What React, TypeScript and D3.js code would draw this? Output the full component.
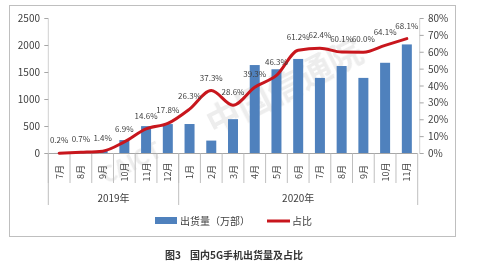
import { scaleBand, scaleLinear, line, curveMonotoneX } from "d3";

const months = ["7月", "8月", "9月", "10月", "11月", "12月", "1月", "2月", "3月", "4月", "5月", "6月", "7月", "8月", "9月", "10月", "11月"];
const years = [
  { label: "2019年", from: 0, to: 6 },
  { label: "2020年", from: 6, to: 17 },
];
const shipments = [10, 20, 50, 249, 507, 545, 546, 239, 636, 1638, 1560, 1751, 1400, 1620, 1400, 1680, 2020];
const shares = [0.2, 0.7, 1.4, 6.9, 14.6, 17.8, 26.3, 37.3, 28.6, 39.3, 46.3, 61.2, 62.4, 60.1, 60.0, 64.1, 68.1];
const leftTicks = [0, 500, 1000, 1500, 2000, 2500];
const rightTicks = [0, 10, 20, 30, 40, 50, 60, 70, 80];

const W = 498, H = 268;
const left = 48.3, right = 417.7, top = 18.5, bottom = 153.5;
const blue = "#4F81BD";
const red = "#C8161D";
const txt = "#404040";
const font = "'Noto Sans CJK SC', 'Liberation Sans', sans-serif";

export default function App() {
  const x = scaleBand<number>().domain(months.map((_, i) => i)).range([left, right]).padding(0);
  const yL = scaleLinear().domain([0, 2500]).range([bottom, top]);
  const yR = scaleLinear().domain([0, 80]).range([bottom, top]);
  const bw = x.bandwidth();
  const cx = (i: number) => (x(i) as number) + bw / 2;
  const path = line<number>().x((_, i) => cx(i)).y((d) => yR(d)).curve(curveMonotoneX);

  return (
    <svg width={W} height={H} style={{ position: "absolute", left: 0, top: 0, background: "#fff" }} fontFamily={font}>
      <rect x={9.5} y={5.5} width={446} height={231} fill="#fff" stroke="#BFBFBF" />

      {/* watermark */}
      <g opacity={0.16} fill="#8a8a8a">
        <text x={290} y={98} fontSize={34} fontWeight="bold" textAnchor="middle" transform="rotate(-27 290 98)">中国信通院</text>
        <text x={135} y={170} fontSize={22} fontWeight="bold" textAnchor="middle" transform="rotate(-27 135 170)">CAICT</text>
      </g>

      {/* bars */}
      {shipments.map((v, i) => (
        <rect key={i} x={cx(i) - 5} y={yL(v)} width={10} height={bottom - yL(v)} fill={blue} />
      ))}

      {/* axes */}
      <line x1={left} x2={right} y1={bottom} y2={bottom} stroke="#A6A6A6" />
      <line x1={left} x2={left} y1={top} y2={bottom} stroke="#D0D0D0" />
      <line x1={right + 2} x2={right + 2} y1={top} y2={bottom} stroke="#D0D0D0" />
      {leftTicks.map((t) => (
        <g key={t}>
          <line x1={left - 4} x2={left} y1={yL(t)} y2={yL(t)} stroke="#A6A6A6" />
          <text x={40} y={yL(t)} dy="0.35em" textAnchor="end" fontSize={10} fill={txt}>{t}</text>
        </g>
      ))}
      {rightTicks.map((t) => (
        <g key={t}>
          <line x1={right + 2} x2={right + 6} y1={yR(t)} y2={yR(t)} stroke="#A6A6A6" />
          <text x={428} y={yR(t)} dy="0.35em" fontSize={10} fill={txt}>{t}%</text>
        </g>
      ))}

      {/* category dividers */}
      {months.map((_, i) => (
        <line key={i} x1={x(i)} x2={x(i)} y1={bottom} y2={183} stroke="#BFBFBF" />
      ))}
      <line x1={right} x2={right} y1={bottom} y2={205} stroke="#BFBFBF" />
      {years.map((yv) => (
        <line key={yv.label} x1={x(yv.from)} x2={x(yv.from)} y1={bottom} y2={205} stroke="#BFBFBF" />
      ))}
      {months.map((m, i) => (
        <text key={i} transform={`translate(${cx(i)},172) rotate(-90)`} textAnchor="middle" dominantBaseline="central" fontSize={9} fill={txt}>{m}</text>
      ))}
      {years.map((yv) => (
        <text key={yv.label} x={((x(yv.from) as number) + ((x(yv.to - 1) as number) + bw)) / 2} y={198} dy="0.35em" textAnchor="middle" fontSize={10} fill={txt}>{yv.label}</text>
      ))}

      {/* share line */}
      <path d={path(shares) ?? ""} fill="none" stroke={red} strokeWidth={3} strokeLinejoin="round" strokeLinecap="round" />
      {shares.map((s, i) => (
        <text key={i} x={cx(i)} y={yR(s) - 10} textAnchor="middle" fontSize={8} fill={txt}>{s.toFixed(1)}%</text>
      ))}

      {/* legend */}
      <rect x={155} y={217} width={22} height={7} fill={blue} />
      <text x={180} y={221} dy="0.35em" fontSize={10} fill={txt}>出货量（万部）</text>
      <line x1={267} x2={290} y1={221} y2={221} stroke={red} strokeWidth={3} />
      <text x={292} y={221} dy="0.35em" fontSize={10} fill={txt}>占比</text>

      {/* caption */}
      <text x={165} y={255} dy="0.35em" fontSize={10} fontWeight="bold" fill="#333">图3</text>
      <text x={190} y={255} dy="0.35em" fontSize={10} fontWeight="bold" fill="#333">国内5G手机出货量及占比</text>
    </svg>
  );
}
